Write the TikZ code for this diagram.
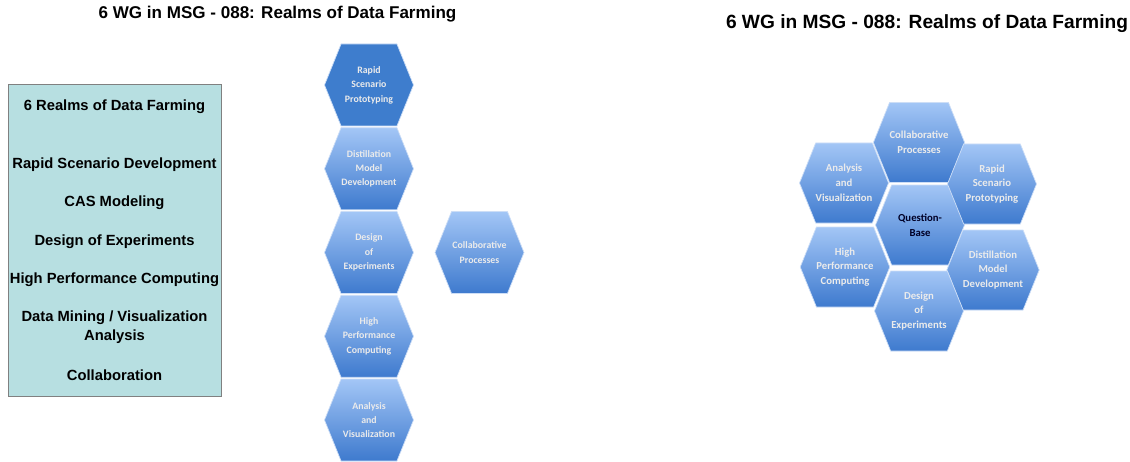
\documentclass[tikz,border=0pt]{standalone}
\usepackage{fontspec}
\setmainfont{Liberation Sans}
\newfontfamily\hexfont{Carlito}
\usetikzlibrary{shapes.symbols}

\definecolor{boxteal}{RGB}{183,223,225}
\definecolor{hextop}{RGB}{163,198,246}
\definecolor{hexbot}{RGB}{62,122,206}
\definecolor{hexdark}{RGB}{62,125,205}
\definecolor{hexedge}{RGB}{205,222,246}

\begin{document}
\begin{tikzpicture}[
    title/.style={font=\fontsize{#1}{#1}\selectfont\bfseries},
    realm/.style={font=\fontsize{8.4}{10.8}\selectfont\bfseries, align=center},
    hexa/.style={signal, signal to=east and west, signal pointer angle=136,
        minimum width=1.78cm, minimum height=1.64cm, inner sep=0pt,
        top color=hextop, bottom color=hexbot, draw=hexedge, line width=0.4pt,
        text=white!92!black, align=center,
        font=\hexfont\fontsize{5.6}{8.2}\selectfont\bfseries},
    hexbig/.style={hexa, minimum height=1.6cm,
        font=\hexfont\fontsize{6.1}{8.4}\selectfont\bfseries},
]
\useasboundingbox (0,0) rectangle (22.6,-9.24);

% Titles
\node[title=9.7] (lefttitle) at (5.55,-0.28) {6 WG in MSG - 088: Realms of Data Farming};
\node[title=10.9] (righttitle) at (18.54,-0.48) {6 WG in MSG - 088: Realms of Data Farming};

% Realms box
\node[draw=gray, fill=boxteal, minimum width=4.26cm, minimum height=6.24cm] (realmbox) at (2.29,-4.8) {};
\node[realm] (r0) at (2.29,-2.14) {6 Realms of Data Farming};
\node[realm] (r1) at (2.29,-3.30) {Rapid Scenario Development};
\node[realm] (r2) at (2.29,-4.06) {CAS Modeling};
\node[realm] (r3) at (2.29,-4.84) {Design of Experiments};
\node[realm] (r4) at (2.29,-5.60) {High Performance Computing};
\node[realm] (r5) at (2.29,-6.55) {Data Mining / Visualization\\Analysis};
\node[realm] (r6) at (2.29,-7.50) {Collaboration};

% Column of realms
\node[hexa, top color=hexdark, bottom color=hexdark] (c1) at (7.38,-1.70) {Rapid\\Scenario\\Prototyping};
\node[hexa] (c2) at (7.38,-3.375) {Distillation\\Model\\Development};
\node[hexa] (c3) at (7.38,-5.05) {Design\\of\\Experiments};
\node[hexa] (c4) at (7.38,-6.725) {High\\Performance\\Computing};
\node[hexa] (c5) at (7.38,-8.40) {Analysis\\and\\Visualization};
\node[hexa] (c6) at (9.59,-5.05) {Collaborative\\Processes};

% Honeycomb
\node[hexbig, text=black!85!blue] (qbase) at (18.40,-4.50) {Question-\\Base};
\node[hexbig] (h1) at (18.38,-2.85) {Collaborative\\Processes};
\node[hexbig] (h2) at (19.84,-3.68) {Rapid\\Scenario\\Prototyping};
\node[hexbig] (h3) at (19.86,-5.40) {Distillation\\Model\\Development};
\node[hexbig] (h4) at (18.38,-6.22) {Design\\of\\Experiments};
\node[hexbig] (h5) at (16.90,-5.34) {High\\Performance\\Computing};
\node[hexbig] (h6) at (16.88,-3.66) {Analysis\\and\\Visualization};

\end{tikzpicture}
\end{document}
